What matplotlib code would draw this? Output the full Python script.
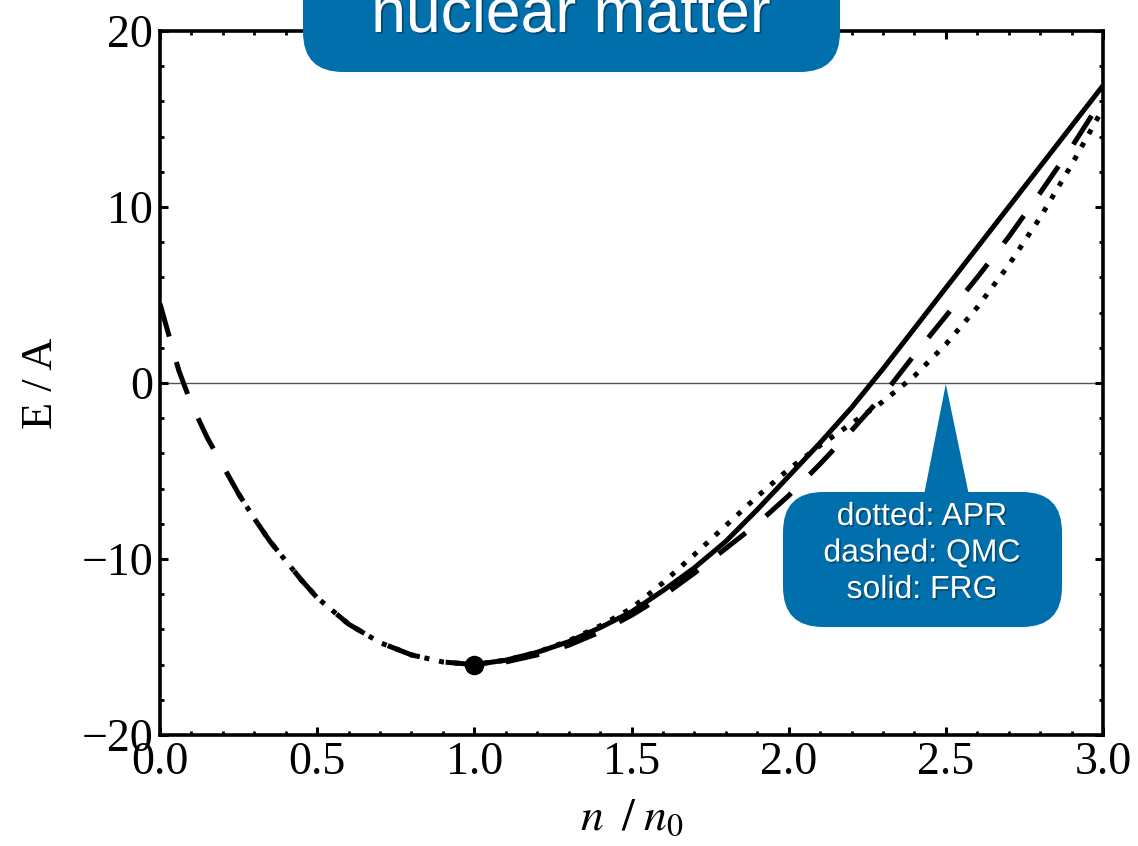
import matplotlib
matplotlib.use('Agg')
import matplotlib.pyplot as plt
import matplotlib.patheffects as pe
from matplotlib.patches import FancyBboxPatch, Polygon
from matplotlib.ticker import MultipleLocator

plt.rcParams['mathtext.fontset'] = 'stix'
plt.rcParams['lines.scale_dashes'] = False

# energy per nucleon (MeV) vs density n/n0
# below saturation the APR and QMC curves coincide
n_low = [0.0, 0.03, 0.06, 0.10, 0.15, 0.20, 0.25, 0.30, 0.35, 0.40, 0.45, 0.50,
         0.60, 0.70, 0.80, 0.90, 1.00]
e_low = [4.5, 2.6, 0.7, -1.2, -3.1, -4.7, -6.3, -7.7, -9.0, -10.1, -11.2, -12.2,
         -13.7, -14.75, -15.45, -15.85, -16.0]
apr_start = 0.25

n_high = [1.0, 1.1, 1.2, 1.3, 1.4, 1.5, 1.6, 1.7, 1.8, 1.9, 2.0,
          2.1, 2.2, 2.3, 2.4, 2.5, 2.6, 2.7, 2.8, 2.9, 3.0]
e_frg = [-16.0, -15.75, -15.3, -14.7, -13.9, -13.0, -11.8, -10.5, -9.0, -7.2, -5.3,
         -3.4, -1.4, 0.8, 3.1, 5.4, 7.7, 10.0, 12.3, 14.6, 16.9]
e_qmc = [-16.0, -15.85, -15.45, -14.9, -14.15, -13.2, -12.1, -10.8, -9.4, -8.0, -6.4,
         -4.6, -2.7, -0.7, 1.6, 3.8, 6.0, 8.3, 10.8, 13.4, 16.2]
e_apr = [-16.0, -15.75, -15.3, -14.65, -13.8, -12.8, -11.35, -9.75, -8.1, -6.45, -4.9,
         -3.55, -2.3, -1.05, 0.4, 2.2, 4.3, 6.7, 9.4, 12.4, 15.6]

# saturation point
n_sat = [1.0]
e_sat = [-16.0]

callout_lines = ['dotted: APR', 'dashed: QMC', 'solid: FRG']
box_blue = '#006fac'

W, H = 1138, 846
fig = plt.figure(figsize=(W / 100, H / 100), dpi=100)
ax = fig.add_axes([160 / W, 1 - 735 / H, 943 / W, 704 / H])

lw = 3.6
n_apr = [n for n in n_low if n >= apr_start][:-1] + n_high
e_apr_all = [e for n, e in zip(n_low, e_low) if n >= apr_start][:-1] + e_apr
n_qmc = n_low[:-1] + n_high
e_qmc_all = e_low[:-1] + e_qmc

ax.axhline(0, color='#555555', lw=1.0, zorder=1)
ax.plot(n_apr, e_apr_all, color='k', lw=lw, linestyle=(0, (3.6, 7.2)),
        dash_capstyle='butt', zorder=2)
ax.plot(n_qmc, e_qmc_all, color='k', lw=lw, linestyle=(0, (24.5, 19.0)),
        dash_capstyle='butt', zorder=3)
ax.plot(n_high, e_frg, color='k', lw=lw, solid_capstyle='butt', zorder=4)
ax.plot(n_sat, e_sat, 'o', color='k', ms=13, zorder=5)

ax.set_xlim(0, 3)
ax.set_ylim(-20, 20)
ax.xaxis.set_major_locator(MultipleLocator(0.5))
ax.xaxis.set_minor_locator(MultipleLocator(0.1))
ax.yaxis.set_major_locator(MultipleLocator(10))
ax.yaxis.set_minor_locator(MultipleLocator(2))
ax.xaxis.set_major_formatter(matplotlib.ticker.FormatStrFormatter('%.1f'))
ax.tick_params(which='both', direction='in', top=True, right=True,
               labelsize=33, pad=5)
ax.tick_params(which='major', length=6, width=2.2)
ax.tick_params(which='minor', length=3, width=2.0)
for lab in ax.get_xticklabels() + ax.get_yticklabels():
    lab.set_family('Liberation Serif')
for sp in ax.spines.values():
    sp.set_linewidth(2.6)

ax.set_ylabel('E / A', fontsize=32, family='Liberation Serif')
ax.yaxis.set_label_coords(-0.105, 0.5)
ax.set_xlabel(r'$n\;\;/\;n_0$', fontsize=33)
ax.xaxis.set_label_coords(0.5, -0.085)

# overlay in pixel units for the blue boxes
ov = fig.add_axes([0, 0, 1, 1], zorder=10)
ov.set_xlim(0, W)
ov.set_ylim(0, H)
ov.axis('off')

shadow = [pe.withSimplePatchShadow(offset=(1.2, -1.2), shadow_rgbFace='k', alpha=0.35)]

title_box = FancyBboxPatch((303, H - 72), 537, 160,
                           boxstyle='round,pad=0,rounding_size=40',
                           fc=box_blue, ec='none', clip_on=False)
ov.add_patch(title_box)
ov.text(571, H - 32, 'nuclear matter', ha='center', va='baseline', fontsize=45,
        color='white', family='Liberation Sans', path_effects=shadow)

# callout pointing at n = 2.5 on the zero line
tip = ov.transData.inverted().transform(ax.transData.transform((2.5, 0)))
call_box = FancyBboxPatch((783, H - 627), 279, 135,
                          boxstyle='round,pad=0,rounding_size=40',
                          fc=box_blue, ec='none')
ov.add_patch(call_box)
ov.add_patch(Polygon([(923, H - 500), (970, H - 500), (tip[0], tip[1] - 1)],
                     closed=True, fc=box_blue, ec='none'))
for i, line in enumerate(callout_lines):
    ov.text(922, H - 517 - 36.5 * i, line, ha='center', va='center', fontsize=23,
            color='white', family='Liberation Sans', path_effects=shadow)

fig.savefig('out.png', dpi=100)
